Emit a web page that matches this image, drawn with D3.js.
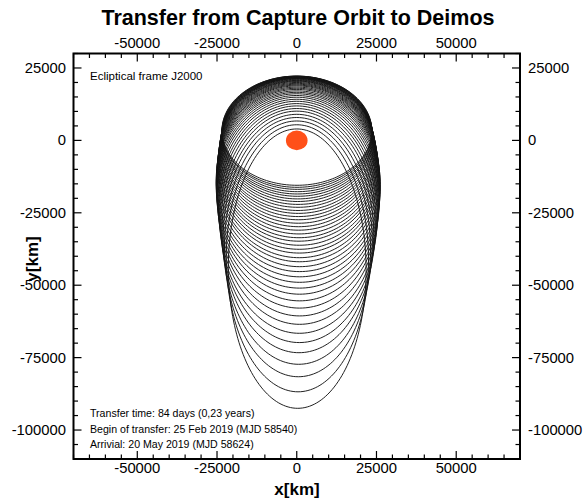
<!DOCTYPE html>
<html>
<head>
<meta charset="utf-8">
<script src="https://cdn.jsdelivr.net/npm/d3@7"></script>
<style>
  html, body { margin: 0; padding: 0; background: #fff; }
  svg { display: block; font-family: "Liberation Sans", Arial, sans-serif; }
</style>
</head>
<body>
<svg id="chart" width="587" height="500"></svg>
<script>
// Revolutions of the transfer, first (capture orbit) to last.
// Projected periapsis height (top of each loop), km
const periY = [3950, 5400, 6700, 7900, 9000, 10100, 11000, 11900, 12700, 13500,
  14200, 14900, 15500, 16100, 16600, 17100, 17600, 18000, 18400, 18800,
  19100, 19400, 19700, 20000, 20300, 20500, 20700, 20900, 21100, 21300,
  21400, 21500, 21600, 21700, 21800, 21900, 22000, 22000, 22100, 22100,
  22200, 22200];
// Projected apoapsis depth (bottom of each loop), km
const apoY = [-92500, -86800, -81600, -77300, -73300, -69800, -66600, -63500, -60600, -57900,
  -55400, -53100, -51000, -49000, -47100, -45300, -43600, -41900, -40500, -38900,
  -37600, -36200, -34800, -33600, -32300, -31000, -29800, -28600, -27400, -26300,
  -25200, -24200, -23100, -22100, -21100, -20200, -19300, -18500, -17700, -16900,
  -16200, -15500];
// Half width of each loop, km
const halfW = [21600, 22300, 22900, 23400, 23800, 24200, 24500, 24800, 25000, 25200,
  25400, 25500, 25600, 25700, 25700, 25700, 25600, 25500, 25400, 25300,
  25200, 25100, 25000, 24900, 24800, 24700, 24600, 24500, 24400, 24300,
  24200, 24100, 24000, 23900, 23800, 23700, 23700, 23600, 23600, 23500,
  23500, 23500];
// Sideways offset of each loop centre, km
const shiftX = [300, 400, 500, 600, 700, 800, 800, 900, 900, 900,
  900, 900, 900, 900, 900, 900, 900, 900, 800, 800,
  800, 800, 700, 700, 700, 600, 600, 600, 500, 500,
  500, 400, 400, 400, 300, 300, 300, 200, 200, 200,
  100, 100];

const marsRadius = 3390; // km

const xTicks = [-50000, -25000, 0, 25000, 50000];
const yTicks = [25000, 0, -25000, -50000, -75000, -100000];
const xDomain = [-70000, 70000];
const yDomain = [-110000, 30000];

const infoLines = [
  "Transfer time: 84 days (0,23 years)",
  "Begin of transfer: 25 Feb 2019 (MJD 58540)",
  "Arrivial: 20 May 2019 (MJD 58624)"
];

const svg = d3.select("#chart");
const L = 73.5, R = 520, T = 53.5, B = 459;

const x = d3.scaleLinear().domain(xDomain).range([L, R]);
const y = d3.scaleLinear().domain(yDomain).range([B, T]);

// Orbit loops
const orbits = periY.map((p, i) => ({ top: p, bottom: apoY[i], w: halfW[i], cx: shiftX[i] }));
const line = d3.line().x(d => x(d[0])).y(d => y(d[1])).curve(d3.curveLinearClosed);
const clip = svg.append("clipPath").attr("id", "plotClip");
clip.append("rect").attr("x", L).attr("y", T).attr("width", R - L).attr("height", B - T);

const g = svg.append("g").attr("clip-path", "url(#plotClip)");
g.selectAll("path.orbit")
  .data(orbits)
  .join("path")
  .attr("class", "orbit")
  .attr("fill", "none")
  .attr("stroke", "#151515")
  .attr("stroke-width", 0.95)
  .attr("d", o => {
    const cy = (o.top + o.bottom) / 2, hy = (o.top - o.bottom) / 2;
    const pts = d3.range(0, 360, 2).map(a => {
      const t = a * Math.PI / 180;
      // the periapsis end stays over the planet, the far end carries the offset
      const k = (1 - Math.cos(t)) / 2;
      return [o.cx * k + o.w * Math.sin(t), cy + hy * Math.cos(t)];
    });
    return line(pts);
  });

// Mars
g.append("ellipse")
  .attr("cx", x(0)).attr("cy", y(0))
  .attr("rx", x(marsRadius) - x(0))
  .attr("ry", y(0) - y(marsRadius))
  .attr("fill", "#ff5019");

// Axes with inward ticks on all four sides
const minorX = d3.range(-70000, 70001, 5000);
const minorY = d3.range(-110000, 30001, 5000);
const isMajor = v => v % 25000 === 0;
const tickLen = v => isMajor(v) ? 8 : 4.5;

const axes = svg.append("g").attr("stroke", "#000").attr("stroke-width", 1.2);
minorX.forEach(v => {
  axes.append("line").attr("x1", x(v)).attr("x2", x(v)).attr("y1", B).attr("y2", B - tickLen(v));
  axes.append("line").attr("x1", x(v)).attr("x2", x(v)).attr("y1", T).attr("y2", T + tickLen(v));
});
minorY.forEach(v => {
  axes.append("line").attr("y1", y(v)).attr("y2", y(v)).attr("x1", L).attr("x2", L + tickLen(v));
  axes.append("line").attr("y1", y(v)).attr("y2", y(v)).attr("x1", R).attr("x2", R - tickLen(v));
});
svg.append("rect").attr("x", L).attr("y", T).attr("width", R - L).attr("height", B - T)
  .attr("fill", "none").attr("stroke", "#000").attr("stroke-width", 2);

const lab = svg.append("g").attr("font-size", 14.8).attr("fill", "#000");
xTicks.forEach(v => {
  lab.append("text").attr("x", x(v)).attr("y", 473).attr("text-anchor", "middle").text(v);
  lab.append("text").attr("x", x(v)).attr("y", 48).attr("text-anchor", "middle").text(v);
});
yTicks.forEach(v => {
  lab.append("text").attr("x", 66).attr("y", y(v) + 5).attr("text-anchor", "end").text(v);
  lab.append("text").attr("x", 528).attr("y", y(v) + 5).attr("text-anchor", "start").text(v);
});

// Titles
svg.append("text").attr("x", 298).attr("y", 25).attr("text-anchor", "middle")
  .attr("font-size", 21.5).attr("font-weight", "bold").text("Transfer from Capture Orbit to Deimos");
svg.append("text").attr("x", 297).attr("y", 495).attr("text-anchor", "middle")
  .attr("font-size", 17).attr("font-weight", "bold").text("x[km]");
svg.append("text").attr("transform", "translate(38,259) rotate(-90)").attr("text-anchor", "middle")
  .attr("font-size", 17).attr("font-weight", "bold").text("y[km]");

// Annotations
svg.append("text").attr("x", 90).attr("y", 80).attr("font-size", 11.5).text("Ecliptical frame J2000");
infoLines.forEach((t, i) => {
  svg.append("text").attr("x", 90).attr("y", 417 + i * 15.5).attr("font-size", 10.6).text(t);
});
</script>
</body>
</html>
